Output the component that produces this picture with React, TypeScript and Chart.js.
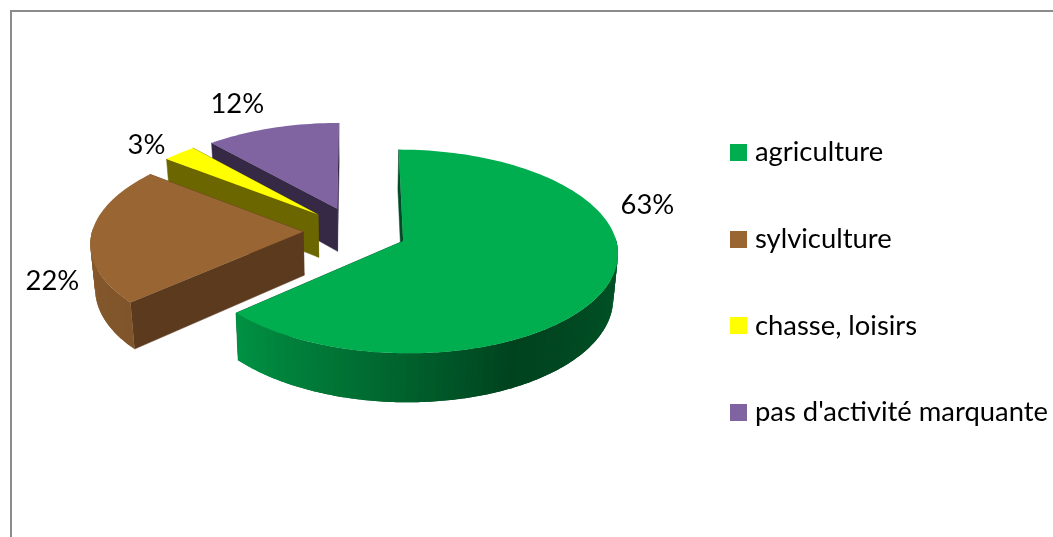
import React, { useEffect, useRef } from "react";
import { Chart, registerables } from "chart.js";

Chart.register(...registerables);

const categories = ["agriculture", "sylviculture", "chasse, loisirs", "pas d'activité marquante"];
const shares = [63.4, 22.2, 2.9, 11.5];
const sliceColors = ["#00AE50", "#996633", "#FFFF00", "#8064A2"];
const cutFaceColors = ["#004A26", "#5C3A1E", "#6B6600", "#352945"];
const labelAngles = [72.7, 247, 311, 336];
const labelReach = [1.255, 1.215, 1.2, 1.365];

const FONT = "Lato, 'Open Sans', sans-serif";
const FONT_SIZE = 27.4;

const view = { yShift: -51.5, tilt: 0.468, perspective: 0.00048, depth: 43.5, taper: 0.018 };
const rimShade: [number, number][] = [
  [0, 0.5], [90, 0.5], [153, 0.38], [190, 0.62], [226, 0.83], [270, 0.88], [360, 0.88],
];

function shadeAt(deg: number) {
  const d = ((deg % 360) + 360) % 360;
  for (let i = 1; i < rimShade.length; i++) {
    const [a, sa] = rimShade[i - 1];
    const [b, sb] = rimShade[i];
    if (d <= b) return sa + ((d - a) / (b - a)) * (sb - sa);
  }
  return 0.88;
}

function scaleColor(hex: string, k: number) {
  const n = parseInt(hex.slice(1), 16);
  const c = [(n >> 16) & 255, (n >> 8) & 255, n & 255].map((v) => Math.round(v * k));
  return `rgb(${c[0]},${c[1]},${c[2]})`;
}

function swatch(color: string) {
  const c = document.createElement("canvas");
  c.width = 17;
  c.height = 17;
  const g = c.getContext("2d")!;
  g.fillStyle = color;
  g.fillRect(0, 0, 17, 17);
  return c;
}

const pie3d = {
  id: "pie3d",
  beforeDatasetDraw(chart: any) {
    const ctx: CanvasRenderingContext2D = chart.ctx;
    const arcs = chart.getDatasetMeta(0).data;
    const project = (cx: number, cy: number, X: number, Y: number, z: number) => {
      const q = 1 - view.perspective * Y;
      return [
        cx + (X / q) * (1 - view.taper * z),
        cy + view.yShift + (view.tilt * Y) / q + (view.depth * z) / q,
      ];
    };
    const poly = (pts: number[][], color: string, edge = 0) => {
      ctx.beginPath();
      pts.forEach((p, i) => (i ? ctx.lineTo(p[0], p[1]) : ctx.moveTo(p[0], p[1])));
      ctx.closePath();
      ctx.fillStyle = color;
      ctx.fill();
      if (edge) {
        ctx.strokeStyle = color;
        ctx.lineWidth = edge;
        ctx.stroke();
      }
    };
    // back to front: purple, yellow, brown, green
    const order = [3, 2, 1, 0];
    order.forEach((i) => {
      const arc = arcs[i];
      const { x, y, startAngle, endAngle, outerRadius: R } = arc.getProps(
        ["x", "y", "startAngle", "endAngle", "outerRadius"],
        true
      );
      const mid = (startAngle + endAngle) / 2;
      const off = (arc.options.offset || 0) / 4;
      const ox = Math.cos(mid) * off;
      const oy = Math.sin(mid) * off;
      const color = arc.options.backgroundColor;
      const P = (a: number, r: number, z: number) =>
        project(x, y, ox + Math.cos(a) * r, oy + Math.sin(a) * r, z);
      const steps = Math.max(4, Math.ceil(((endAngle - startAngle) * 180) / Math.PI / 1.5));
      const angle = (k: number) => startAngle + ((endAngle - startAngle) * Math.min(k, steps)) / steps;
      // cut faces
      [startAngle, endAngle].forEach((a) => {
        poly([P(a, 0, 0), P(a, R, 0), P(a, R, 1), P(a, 0, 1)], cutFaceColors[i], 0.5);
      });
      // rim wall, only where it faces the viewer; each strip overlaps the next so no seam shows
      for (let k = 0; k < steps; k++) {
        const a0 = angle(k);
        const a1 = angle(k + 2);
        const centre = (angle(k) + angle(k + 1)) / 2;
        if (Math.sin(centre) < -0.03) continue;
        const deg = ((centre + Math.PI / 2) * 180) / Math.PI;
        const strip: number[][] = [];
        for (let t = 0; t <= 4; t++) strip.push(P(a0 + ((a1 - a0) * t) / 4, R, 0));
        for (let t = 4; t >= 0; t--) strip.push(P(a0 + ((a1 - a0) * t) / 4, R, 1));
        poly(strip, scaleColor(color, shadeAt(deg)));
      }
      // top face
      const top = [P(0, 0, 0)];
      for (let k = 0; k <= steps; k++) top.push(P(angle(k), R, 0));
      poly(top, color);
    });
    // percentage labels
    ctx.save();
    ctx.font = `${FONT_SIZE}px ${FONT}`;
    ctx.fillStyle = "#000";
    ctx.textAlign = "center";
    ctx.textBaseline = "middle";
    arcs.forEach((arc: any, i: number) => {
      const { x, y, startAngle, endAngle, outerRadius: R } = arc.getProps(
        ["x", "y", "startAngle", "endAngle", "outerRadius"],
        true
      );
      const mid = (startAngle + endAngle) / 2;
      const off = (arc.options.offset || 0) / 4;
      const a = (labelAngles[i] * Math.PI) / 180 - Math.PI / 2;
      const r = R * labelReach[i];
      const p = project(x, y, Math.cos(mid) * off + Math.cos(a) * r, Math.sin(mid) * off + Math.sin(a) * r, 0);
      ctx.fillText(`${Math.round(shares[i])}%`, p[0], p[1]);
    });
    ctx.restore();
    return false;
  },
};

export default function App() {
  const ref = useRef<HTMLCanvasElement>(null);
  useEffect(() => {
    const chart = new Chart(ref.current!, {
      type: "pie",
      data: {
        labels: categories,
        datasets: [
          {
            data: shares,
            backgroundColor: sliceColors,
            borderWidth: 0,
            offset: 208,
            radius: 211,
          } as any,
        ],
      },
      options: {
        responsive: false,
        animation: false,
        devicePixelRatio: 1,
        events: [],
        layout: { padding: { left: 34, top: 28, right: 0, bottom: 0 } },
        plugins: {
          tooltip: { enabled: false },
          legend: {
            position: "right",
            align: "center",
            maxWidth: 376.6,
            labels: {
              color: "#000",
              font: { family: FONT, size: FONT_SIZE },
              padding: 59.27,
              boxWidth: 17,
              boxHeight: 17,
              usePointStyle: true,
              pointStyleWidth: 5.6,
              generateLabels: (c: any) =>
                Chart.overrides.pie.plugins.legend.labels
                  .generateLabels(c)
                  .map((it: any, i: number) => ({ ...it, pointStyle: swatch(sliceColors[i]) })),
            },
          },
        },
      } as any,
      plugins: [pie3d],
    });
    return () => chart.destroy();
  }, []);
  return (
    <div style={{ position: "fixed", left: 0, top: 0, width: 1053, height: 537, background: "#fff", overflow: "hidden" }}>
      <canvas ref={ref} width={1053} height={537} style={{ position: "absolute", left: 0, top: 0, display: "block" }} />
      <div style={{ position: "absolute", left: 10, top: 10, right: -4, bottom: -4, borderLeft: "2px solid #8c8c8c", borderTop: "2px solid #8c8c8c", pointerEvents: "none" }} />
    </div>
  );
}
